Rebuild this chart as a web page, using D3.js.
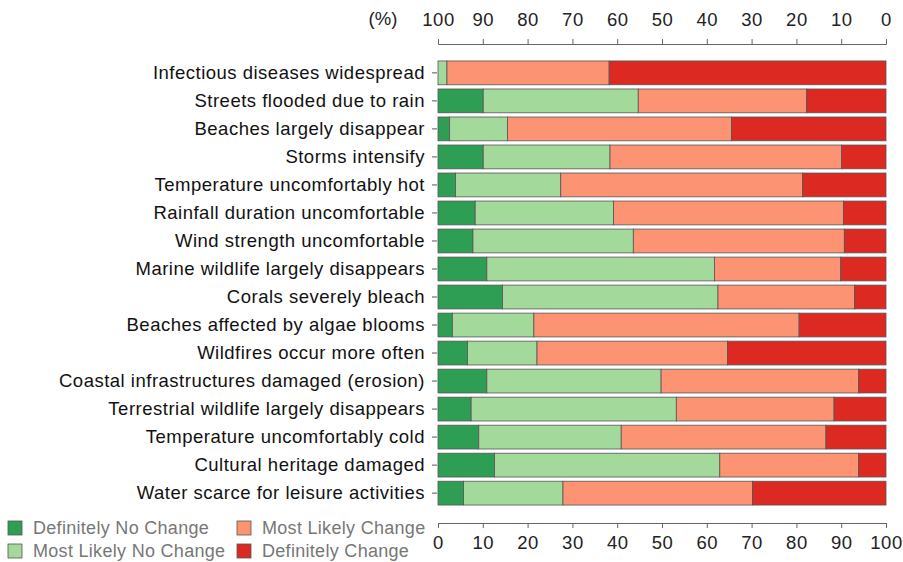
<!DOCTYPE html>
<html>
<head>
<meta charset="utf-8">
<script src="https://cdn.jsdelivr.net/npm/d3@7"></script>
<style>
  body { margin: 0; background: #fff; }
  svg { font-family: "Liberation Sans", Arial, sans-serif; }
</style>
</head>
<body>
<div id="chart"></div>
<script>
// 項目
const items = [
  "Infectious diseases widespread",
  "Streets flooded due to rain",
  "Beaches largely disappear",
  "Storms intensify",
  "Temperature uncomfortably hot",
  "Rainfall duration uncomfortable",
  "Wind strength uncomfortable",
  "Marine wildlife largely disappears",
  "Corals severely bleach",
  "Beaches affected by algae blooms",
  "Wildfires occur more often",
  "Coastal infrastructures damaged (erosion)",
  "Terrestrial wildlife largely disappears",
  "Temperature uncomfortably cold",
  "Cultural heritage damaged",
  "Water scarce for leisure activities"
];
const categories = ["Definitely No Change", "Most Likely No Change", "Most Likely Change", "Definitely Change"];
const colors = ["#2e9e55", "#a3d99a", "#fc9474", "#dc2a22"];

// 各カテゴリの割合 (%)
const definitelyNoChange = [0, 10.1, 2.6, 10.1, 3.9, 8.3, 7.8, 10.9, 14.4, 3.2, 6.6, 10.9, 7.4, 9.1, 12.6, 5.7];
const mostLikelyNoChange = [2.0, 34.6, 12.9, 28.3, 23.5, 30.9, 35.8, 50.8, 48.1, 18.2, 15.5, 38.9, 45.8, 31.8, 50.3, 22.2];
const mostLikelyChange = [36.2, 37.6, 50.0, 51.7, 54.0, 51.3, 47.1, 28.2, 30.5, 59.2, 42.5, 44.1, 35.2, 45.7, 31.0, 42.3];
const definitelyChange = [61.8, 17.7, 34.5, 9.9, 18.6, 9.5, 9.3, 10.1, 7.0, 19.4, 35.4, 6.1, 11.6, 13.4, 6.1, 29.8];

const bottomTicks = [0, 10, 20, 30, 40, 50, 60, 70, 80, 90, 100];

const width = 903, height = 562;
const margin = {left: 438, right: 17, top: 59, bottom: 55};

const rows = items.map(function(d, i) {
  return {
    item: d,
    [categories[0]]: definitelyNoChange[i],
    [categories[1]]: mostLikelyNoChange[i],
    [categories[2]]: mostLikelyChange[i],
    [categories[3]]: definitelyChange[i]
  };
});

const series = d3.stack().keys(categories)(rows);

const svg = d3.select("#chart").append("svg")
  .attr("width", width)
  .attr("height", height);

const x = d3.scaleLinear().domain([0, 100]).range([margin.left, width - margin.right]);
const xTop = d3.scaleLinear().domain([100, 0]).range([margin.left, width - margin.right]);
const y = d3.scaleBand().domain(items)
  .range([margin.top, margin.top + 28 * items.length])
  .paddingInner(0.15).paddingOuter(0.07);

const color = d3.scaleOrdinal().domain(categories).range(colors);

// バー
svg.append("g")
  .selectAll("g")
  .data(series)
  .join("g")
  .attr("fill", function(d) { return color(d.key); })
  .selectAll("rect")
  .data(function(d) { return d; })
  .join("rect")
  .attr("x", function(d) { return x(d[0]); })
  .attr("y", function(d) { return y(d.data.item); })
  .attr("width", function(d) { return x(d[1]) - x(d[0]); })
  .attr("height", y.bandwidth())
  .attr("stroke", "#555")
  .attr("stroke-width", 0.8)
  .attr("stroke-opacity", function(d) { return d[1] - d[0] > 0 ? 1 : 0; });

// y軸
const yAxis = svg.append("g")
  .attr("transform", "translate(" + (margin.left - 1) + ",0)")
  .call(d3.axisLeft(y).tickSize(5).tickPadding(7));
yAxis.select(".domain").remove();
yAxis.selectAll("line").attr("stroke", "#555");
yAxis.selectAll("text")
  .attr("font-size", 18.5)
  .attr("fill", "#111")
  .attr("font-family", "Liberation Sans, Arial, sans-serif")
  .style("letter-spacing", "0.5px");

// 上の軸
const topAxis = svg.append("g")
  .attr("transform", "translate(0,44)")
  .call(d3.axisTop(xTop).tickValues(bottomTicks).tickSize(5).tickSizeOuter(5).tickPadding(13));
topAxis.select(".domain").attr("stroke", "#666");
topAxis.selectAll("line").attr("stroke", "#666");
topAxis.selectAll("text").attr("font-size", 18.5).attr("fill", "#222")
  .attr("font-family", "Liberation Sans, Arial, sans-serif")
  .style("letter-spacing", "0.5px");
svg.append("text")
  .attr("x", 383)
  .attr("y", 25)
  .attr("text-anchor", "middle")
  .attr("font-size", 18.5)
  .attr("fill", "#222")
  .text("(%)");

// 下の軸
const bottomAxis = svg.append("g")
  .attr("transform", "translate(0,523)")
  .call(d3.axisBottom(x).tickValues(bottomTicks).tickSize(5).tickSizeOuter(5).tickPadding(8));
bottomAxis.select(".domain").attr("stroke", "#666");
bottomAxis.selectAll("line").attr("stroke", "#666");
bottomAxis.selectAll("text").attr("font-size", 18.5).attr("fill", "#222")
  .attr("font-family", "Liberation Sans, Arial, sans-serif")
  .style("letter-spacing", "0.5px");

// 凡例
const legendPos = [[8, 528], [8, 551], [237, 528], [237, 551]];
const legend = svg.append("g")
  .selectAll("g")
  .data(categories)
  .join("g")
  .attr("transform", function(d, i) { return "translate(" + legendPos[i][0] + "," + legendPos[i][1] + ")"; });
legend.append("rect")
  .attr("x", 0).attr("y", -7)
  .attr("width", 14).attr("height", 14)
  .attr("fill", function(d) { return color(d); })
  .attr("stroke", "#555")
  .attr("stroke-width", 0.8);
legend.append("text")
  .attr("x", 25)
  .attr("y", 0)
  .attr("dy", "0.35em")
  .attr("font-size", 18)
  .attr("fill", "#777")
  .style("letter-spacing", "0.3px")
  .text(function(d) { return d; });
</script>
</body>
</html>
